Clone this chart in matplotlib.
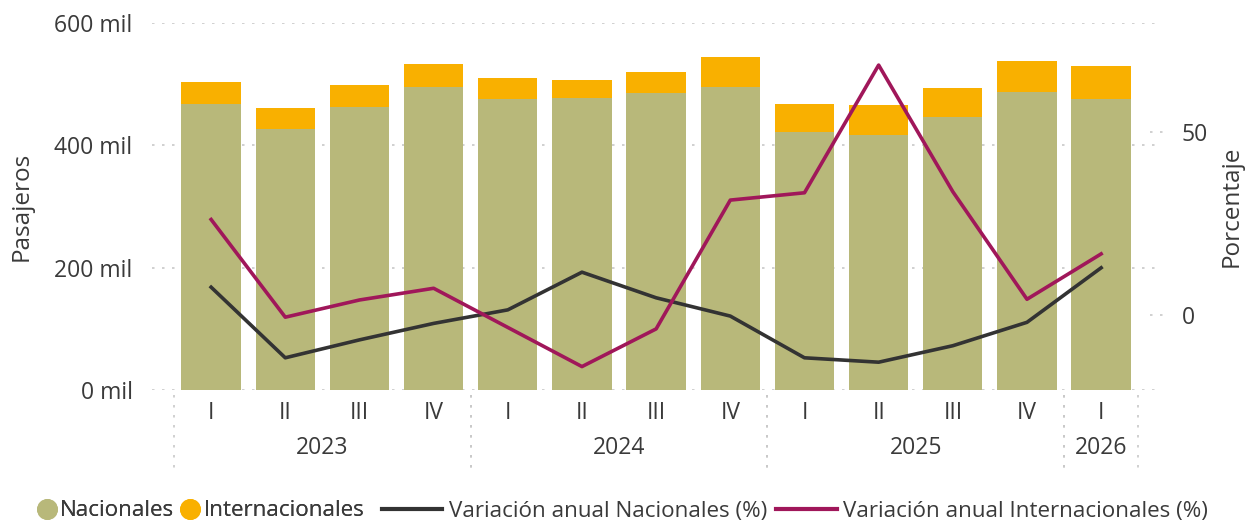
import matplotlib.pyplot as plt
from matplotlib.lines import Line2D
from matplotlib.transforms import blended_transform_factory

# Datos (pasajeros en miles, variaciones en %)
trimestres = ['I', 'II', 'III', 'IV', 'I', 'II', 'III', 'IV', 'I', 'II', 'III', 'IV', 'I']
anios = ['2023', '2024', '2025', '2026']
anio_idx = [0, 0, 0, 0, 1, 1, 1, 1, 2, 2, 2, 2, 3]
nacionales = [467.6, 426.0, 462.7, 495.4, 475.7, 478.0, 485.6, 495.4, 421.8, 417.0, 446.3, 487.9, 475.7]
internacionales = [35.9, 35.0, 35.9, 37.6, 34.3, 29.0, 34.4, 49.0, 45.8, 49.0, 47.4, 50.0, 54.0]
var_nac = [7.6, -11.7, -6.8, -2.3, 1.4, 11.7, 4.7, -0.3, -11.7, -12.9, -8.4, -2.0, 12.9]
var_int = [26.1, -0.6, 4.1, 7.3, -3.4, -14.1, -3.8, 31.4, 33.4, 68.3, 33.7, 4.3, 16.7]

c_nac = '#B8B87A'
c_int = '#F9B000'
c_lnac = '#333333'
c_lint = '#A0175A'
c_txt = '#3A3A3A'
c_grid = '#C8C8C8'

plt.rcParams['font.family'] = ['Open Sans', 'DejaVu Sans']
fs = 16.5
fs_leg = 16.1

W, H = 1246, 526
fig = plt.figure(figsize=(W / 100, H / 100), dpi=100)
ax = fig.add_axes([152 / W, 1 - 390 / H, (1155 - 152) / W, (390 - 23) / H])
ax2 = ax.twinx()

x = list(range(len(trimestres)))
ax.bar(x, nacionales, width=0.8, color=c_nac, zorder=2)
ax.bar(x, internacionales, width=0.8, bottom=nacionales, color=c_int, zorder=2)
ax.set_xlim(-0.797, 12.726)
ax.set_ylim(0, 600)
ax.set_yticks([0, 200, 400, 600])
ax.set_yticklabels([f'{v} mil' for v in [0, 200, 400, 600]], fontsize=fs, color=c_txt)
ax.tick_params(axis='y', length=0, pad=14)
ax.set_xticks([])
ax.yaxis.grid(True, color=c_grid, linewidth=1.2, linestyle=(0, (1.5, 4.5)), zorder=0)
ax.set_axisbelow(True)
for s in ax.spines.values():
    s.set_visible(False)

ax2.plot(x, var_nac, color=c_lnac, linewidth=2.6, zorder=3)
ax2.plot(x, var_int, color=c_lint, linewidth=2.6, zorder=3)
ax2.set_ylim(-20.5, 79.8)
ax2.set_yticks([0, 50])
ax2.set_yticklabels(['0', '50'], fontsize=fs, color=c_txt)
ax2.tick_params(axis='y', length=0, pad=19)
for s in ax2.spines.values():
    s.set_visible(False)
tr2 = blended_transform_factory(ax2.transAxes, ax2.transData)
for v in [0, 50]:
    ax2.plot([1 - 5 / 1003, 1 + 9 / 1003], [v, v], transform=tr2, color=c_grid,
             linewidth=1.2, linestyle=(0, (1.5, 4.5)), clip_on=False)

# Eje de categorias (trimestre / año)
tr = blended_transform_factory(ax.transData, ax.transAxes)
for i, t in enumerate(trimestres):
    ax.text(i, -23 / 367, t, transform=tr, ha='center', va='center', fontsize=fs, color=c_txt)
for k, a in enumerate(anios):
    idx = [i for i in x if anio_idx[i] == k]
    ax.text(sum(idx) / len(idx), -58 / 367, a, transform=tr, ha='center', va='center',
            fontsize=fs, color=c_txt)
    for b in [idx[0] - 0.5, idx[-1] + 0.5]:
        ax.plot([b, b], [-5 / 367, -78 / 367], transform=tr, color=c_grid, linewidth=1.2,
                linestyle=(0, (1.5, 4.5)), clip_on=False)

fig.text(22 / W, 1 - 206 / H, 'Pasajeros', rotation=90, ha='center', va='center',
         fontsize=fs + 1, color=c_txt)
fig.text(1232 / W, 1 - 206 / H, 'Porcentaje', rotation=90, ha='center', va='center',
         fontsize=fs + 1, color=c_txt)

# Leyenda
h1 = [Line2D([], [], marker='o', linestyle='none', markersize=14, color=c_nac),
      Line2D([], [], marker='o', linestyle='none', markersize=14, color=c_int)]
h2 = [Line2D([], [], color=c_lnac, linewidth=3),
      Line2D([], [], color=c_lint, linewidth=3)]
leg1 = fig.legend(h1, ['Nacionales', 'Internacionales'], loc='center left',
                  bbox_to_anchor=(38 / W, 1 - 511 / H), ncol=2, frameon=False,
                  handlelength=0.8, handletextpad=0.2, columnspacing=0.3,
                  fontsize=fs_leg, labelcolor=c_txt, borderaxespad=0, borderpad=0)
leg2 = fig.legend(h2, ['Variación anual Nacionales (%)', 'Variación anual Internacionales (%)'],
                  loc='center left', bbox_to_anchor=(382 / W, 1 - 511 / H), ncol=2,
                  frameon=False, handlelength=2.7, handletextpad=0.3, columnspacing=0.4,
                  fontsize=fs_leg, labelcolor=c_txt, borderaxespad=0, borderpad=0)
fig.add_artist(leg1)

fig.savefig('out.png', dpi=100)
